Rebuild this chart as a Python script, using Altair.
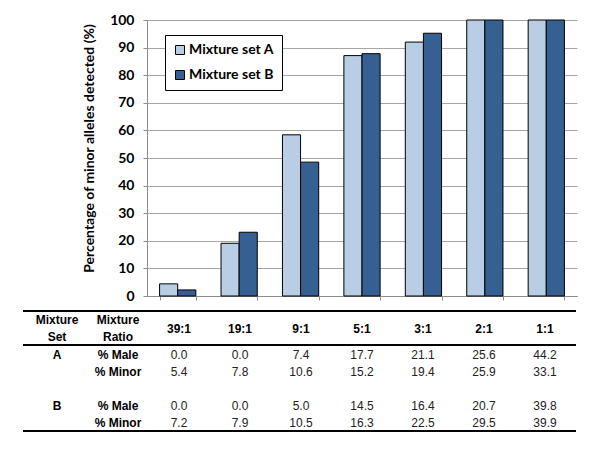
import altair as alt
import pandas as pd

ratios = ["39:1", "19:1", "9:1", "5:1", "3:1", "2:1", "1:1"]
sets = ["Mixture set A", "Mixture set B"]
detected_a = [4.4, 19.1, 58.4, 87.1, 92.0, 100.0, 100.0]
detected_b = [2.2, 23.1, 48.5, 87.8, 95.2, 100.0, 100.0]
male_a = [0.0, 0.0, 7.4, 17.7, 21.1, 25.6, 44.2]
minor_a = [5.4, 7.8, 10.6, 15.2, 19.4, 25.9, 33.1]
male_b = [0.0, 0.0, 5.0, 14.5, 16.4, 20.7, 39.8]
minor_b = [7.2, 7.9, 10.5, 16.3, 22.5, 29.5, 39.9]

table_cols = ["set", "ratio"] + ratios
table_rows = ["header", "A_male", "A_minor", "gap", "B_male", "B_minor"]
stub_headers = ["Mixture\nSet", "Mixture\nRatio"]
row_set_labels = ["A", "", "", "B", ""]
row_ratio_labels = ["% Male", "% Minor", "", "% Male", "% Minor"]

# ---------- bar chart ----------
bars_df = pd.DataFrame({
    "ratio": ratios * 2,
    "set": [sets[0]] * len(ratios) + [sets[1]] * len(ratios),
    "pct": detected_a + detected_b,
})

bars = alt.Chart(bars_df).mark_bar(stroke="black", strokeWidth=1).encode(
    x=alt.X("ratio:N", sort=ratios,
            scale=alt.Scale(paddingInner=0.41, paddingOuter=0.205),
            axis=alt.Axis(title=None, labels=False, tickBand="extent", ticks=True,
                          tickSize=4, tickColor="#8c8c8c", domainColor="#8c8c8c",
                          grid=False)),
    xOffset=alt.XOffset("set:N", sort=sets),
    y=alt.Y("pct:Q", scale=alt.Scale(domain=[0, 100], nice=False),
            axis=alt.Axis(title="Percentage of minor alleles detected (%)",
                          values=list(range(0, 101, 10)), grid=True,
                          gridColor="#a6a6a6", domainColor="#8c8c8c",
                          tickColor="#8c8c8c", tickSize=4,
                          labelFont="Lato", labelFontWeight="bold", labelFontSize=14,
                          labelColor="black", labelPadding=9,
                          titleFont="Lato", titleFontWeight="bold", titleFontSize=14,
                          titleColor="black", titlePadding=13, titleY=128)),
    color=alt.Color("set:N", sort=sets,
                    scale=alt.Scale(domain=sets, range=["#b9cde5", "#366092"]),
                    legend=alt.Legend(title=None, orient="none", legendX=18, legendY=15,
                                      fillColor="white", strokeColor="black",
                                      padding=8, symbolType="square", symbolSize=81,
                                      symbolStrokeColor="black", symbolStrokeWidth=1,
                                      labelFont="Lato", labelFontWeight="bold",
                                      labelFontSize=14, labelColor="black",
                                      rowPadding=11, labelOffset=2)),
).properties(width=430, height=276)

# ---------- table ----------
recs = []
for c, t in zip(table_cols[:2], stub_headers):
    recs.append({"row": "header", "col": c, "text": t, "kind": "stub"})
for c in ratios:
    recs.append({"row": "header", "col": c, "text": c, "kind": "header"})
value_rows = [male_a, minor_a, None, male_b, minor_b]
for r, s_lab, r_lab, vals in zip(table_rows[1:], row_set_labels, row_ratio_labels, value_rows):
    if vals is None:
        continue
    recs.append({"row": r, "col": "set", "text": s_lab, "kind": "label"})
    recs.append({"row": r, "col": "ratio", "text": r_lab, "kind": "label"})
    for c, v in zip(ratios, vals):
        recs.append({"row": r, "col": c, "text": f"{v:.1f}", "kind": "value"})
table_df = pd.DataFrame(recs)

xs = alt.X("col:N", scale=alt.Scale(type="point", domain=table_cols, range=[-90, 398], padding=0),
           axis=None)
ys = alt.Y("row:N", scale=alt.Scale(type="point", domain=table_rows, range=[27, 112], padding=0),
           axis=None)

base = alt.Chart(table_df).encode(x=xs, y=ys, text="text:N")
stub = base.transform_filter(alt.datum.kind == "stub").mark_text(
    font="Liberation Sans", fontSize=12, fontWeight="bold", color="black",
    lineBreak="\n", lineHeight=17, dy=-18, baseline="middle")
header = base.transform_filter(alt.datum.kind == "header").mark_text(
    font="Liberation Sans", fontSize=12, fontWeight="bold", color="black",
    dy=-9, baseline="middle")
labels = base.transform_filter(alt.datum.kind == "label").mark_text(
    font="Liberation Sans", fontSize=12, fontWeight="bold", color="black", baseline="middle")
values = base.transform_filter(alt.datum.kind == "value").mark_text(
    font="Liberation Sans", fontSize=12, color="#222222", baseline="middle")

rule_top = alt.Chart(table_df).mark_rule(color="black", strokeWidth=2).encode(
    x=alt.value(-124), x2=alt.value(429), y=alt.value(0))
rule_mid = alt.Chart(table_df).mark_rule(color="black", strokeWidth=2).encode(
    x=alt.value(-124), x2=alt.value(429), y=alt.value(34))
rule_bot = alt.Chart(table_df).mark_rule(color="black", strokeWidth=2).encode(
    x=alt.value(-124), x2=alt.value(429), y=alt.value(120))

table = alt.layer(rule_top, rule_mid, rule_bot, stub, header, labels, values).properties(
    width=430, height=120)

chart = alt.vconcat(bars, table, spacing=7).properties(
    padding={"left": 14, "top": 5, "right": 5, "bottom": 5}
).configure_view(stroke=None)

chart.save("out.html", embed_options={"renderer": "svg", "actions": False})
